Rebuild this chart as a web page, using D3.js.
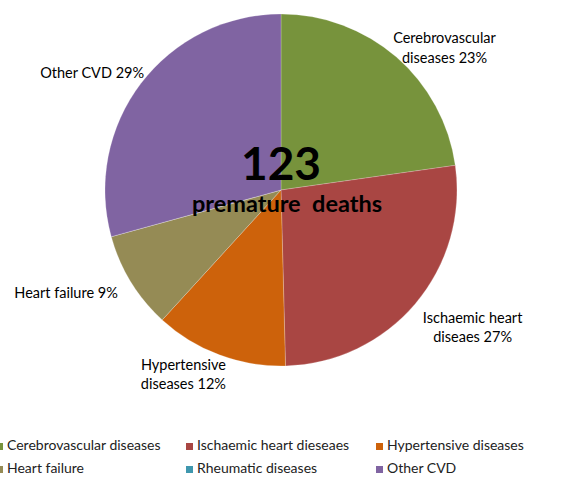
<!DOCTYPE html>
<html>
<head>
<meta charset="utf-8">
<script src="https://cdn.jsdelivr.net/npm/d3@7"></script>
<style>
  html, body { margin: 0; padding: 0; background: #fff; }
  svg { display: block; font-family: Lato, "Open Sans", sans-serif; }
</style>
</head>
<body>
<svg width="579" height="477"></svg>
<script>
  // deaths by cause (total 123)
  const categories = ['Cerebrovascular diseases', 'Ischaemic heart dieseaes', 'Hypertensive diseases', 'Heart failure', 'Rheumatic diseases', 'Other CVD']
  const deaths = [28, 33, 15, 11, 0, 36]
  // data label text, line by line
  const labelLines = [
    ['Cerebrovascular', 'diseases 23%'],
    ['Ischaemic heart', 'diseaes 27%'],
    ['Hypertensive', 'diseases 12%'],
    ['Heart failure 9%'],
    [],
    ['Other CVD 29%']
  ]
  const colors = ['#77933c', '#a94643', '#cd620b', '#958b55', '#3f97ae', '#8064a2']
  const total = 123

  var svg = d3.select('svg')
  var cx = 281, cy = 190, r = 176

  var pie = d3.pie().sort(null).value(function (d) { return d })
  var arcs = pie(deaths)
  var arc = d3.arc().innerRadius(0).outerRadius(r)
  var labelArc = d3.arc().innerRadius(r + 20).outerRadius(r + 20)

  var g = svg.append('g').attr('transform', 'translate(' + cx + ',' + cy + ')')

  g.selectAll('path')
    .data(arcs)
    .enter().append('path')
      .attr('d', arc)
      .attr('fill', function (d, i) { return colors[i] })
      .attr('stroke', 'rgba(255,255,255,0.35)')
      .attr('stroke-width', 0.6)

  // label offsets from the outer centroid, picked by eye
  var nudge = [[35, 1], [42, 6], [-29, -4], [4, 6], [0, 0], [19, 7]]
  var anchors = ['middle', 'middle', 'middle', 'end', 'middle', 'end']

  g.selectAll('text.lbl')
    .data(arcs)
    .enter().append('text')
      .attr('class', 'lbl')
      .attr('font-size', 14.5)
      .attr('fill', '#000')
      .attr('text-anchor', function (d, i) { return anchors[i] })
      .each(function (d, i) {
        var c = labelArc.centroid(d)
        var t = d3.select(this)
        labelLines[i].forEach(function (line, k) {
          t.append('tspan')
            .attr('x', c[0] + nudge[i][0])
            .attr('y', c[1] + nudge[i][1] + k * 19.5)
            .text(line)
        })
      })

  // centre text
  g.append('text')
    .attr('text-anchor', 'middle')
    .attr('x', 0).attr('y', -10)
    .attr('font-size', 46).attr('font-weight', 'bold')
    .text(total)
  g.append('text')
    .attr('text-anchor', 'middle')
    .attr('x', 6).attr('y', 22)
    .attr('font-size', 23.5).attr('font-weight', 'bold')
    .style('white-space', 'pre')
    .text('premature  deaths')

  // legend, 3 per row
  var legend = svg.append('g')
    .selectAll('g')
    .data(categories)
    .enter().append('g')
      .attr('transform', function (d, i) {
        return 'translate(' + (-4 + (i % 3) * 190) + ',' + (443 + Math.floor(i / 3) * 23) + ')'
      })
  legend.append('rect')
    .attr('width', 7).attr('height', 7)
    .attr('fill', function (d, i) { return colors[i] })
  legend.append('text')
    .attr('x', 11).attr('y', 7)
    .attr('font-size', 14)
    .attr('fill', '#222')
    .text(function (d) { return d })
</script>
</body>
</html>
